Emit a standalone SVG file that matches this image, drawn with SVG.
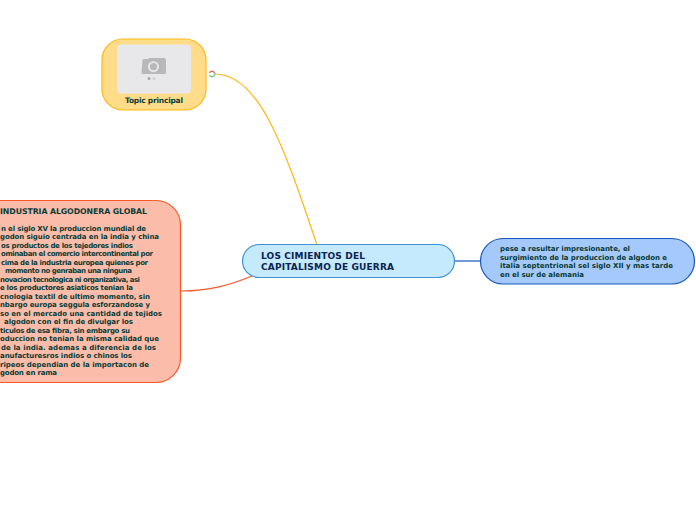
<svg xmlns="http://www.w3.org/2000/svg" width="696" height="520" viewBox="0 0 696 520">
<style>
text{font-family:"DejaVu Sans",Verdana,sans-serif;font-weight:700;fill:#0b3b35}
.s text{font-size:7px}
.h text{fill:#0b2350;font-size:9px}
.c{fill:none;stroke-width:1.2}
</style>
<rect width="696" height="520" fill="#fff"/>
<g id="connectors">
<path class="c" stroke="#fdb813" d="M215 74C260 74 285 150 317 245"/>
<path class="c" stroke="#f9582a" d="M181 291C210 291 230 285 252 276"/>
<path class="c" stroke="#1558c0" d="M455 261H481"/>
</g>
<g id="topic">
<rect x="102" y="39" width="104" height="71" rx="21" fill="#ffdc8a" stroke="#fdb813" stroke-width="1.200"/>
<rect x="117" y="44.500" width="74" height="49" rx="4" fill="#e8e8ea"/>
<path fill="#b8b8ba" d="M142.500 60.500a1.500 1.500 0 0 1 1.500-1.500h4l1-1h13a3 3 0 0 1 4 2v12.500a1.500 1.500 0 0 1-1.500 1.500h-21.500a1.500 1.500 0 0 1-1.500-1.500z"/>
<circle cx="153.500" cy="66.700" r="5.500" fill="#e8e8ea"/>
<circle cx="153.500" cy="66.700" r="3.600" fill="#b8b8ba"/>
<circle cx="149" cy="78.500" r="1.500" fill="#a8a8aa"/>
<circle cx="154" cy="78.500" r="1.500" fill="#d0d0d2"/>
<text x="125" y="102.700" font-size="7.500" textLength="58">Topic principal</text>
<circle cx="212" cy="74" r="2.800" fill="#fff"/>
<path d="M209.500 73a2.700 2.700 0 0 1 5 0" fill="none" stroke="#e2725b" stroke-width="1.400"/>
<path d="M209.500 75a2.700 2.700 0 0 0 5 0" fill="none" stroke="#7fc47f" stroke-width="1.400"/>
<path d="M214.800 73v2" fill="none" stroke="#6fa8dc" stroke-width="1.200"/>
</g>
<g id="industria">
<path d="M-10 200.500H156a24.500 24.500 0 0 1 24.500 24.500V358a24.500 24.500 0 0 1-24.500 24.500H-10z" fill="#fbbcaa" stroke="#f9582a" stroke-width="1.200"/>
<text x="0" y="213.500" font-size="7.800" textLength="147">INDUSTRIA ALGODONERA GLOBAL</text>
<g class="s">
<text x="1" y="230.700" textLength="145">n el siglo XV la produccion mundial de</text>
<text x="0" y="239.200" textLength="159">godon siguio centrada en la india y china</text>
<text x="1" y="247.700" textLength="132">os productos de los tejedores indios</text>
<text x="1" y="256.200" textLength="152">ominaban el comercio intercontinental por</text>
<text x="1" y="264.700" textLength="147">cima de la industria europea quienes por</text>
<text x="5" y="273.200" textLength="127">momento no genraban una ninguna</text>
<text x="0" y="281.700" textLength="140">novacion tecnologica ni organizativa, asi</text>
<text x="0" y="290.200" textLength="133">e los productores asiaticos tenian la</text>
<text x="0" y="298.700" textLength="150">cnologia textil de ultimo momento, sin</text>
<text x="0" y="307.200" textLength="150">nbargo europa seggula esforzandose y</text>
<text x="0" y="315.700" textLength="162">so en el mercado una cantidad de tejidos</text>
<text x="4" y="324.200" textLength="129">algodon con el fin de divulgar los</text>
<text x="0" y="332.700" textLength="130">ticulos de esa fibra, sin embargo su</text>
<text x="0" y="341.200" textLength="159">oduccion no tenian la misma calidad que</text>
<text x="1" y="349.700" textLength="155">de la india. ademas a diferencia de los</text>
<text x="0" y="358.200" textLength="132">anufacturesros indios o chinos los</text>
<text x="0" y="366.700" textLength="149">ripeos dependian de la importacon de</text>
<text x="0" y="375.200" textLength="57">godon en rama</text>
</g>
</g>
<g id="central">
<rect x="242.500" y="244.500" width="212" height="33" rx="16.500" fill="#c5e9fd" stroke="#3f8fd2" stroke-width="1.200"/>
<g class="h">
<text x="261" y="259" textLength="104">LOS CIMIENTOS DEL</text>
<text x="261" y="270" textLength="133">CAPITALISMO DE GUERRA</text>
</g>
</g>
<g id="pese">
<rect x="480.500" y="238.500" width="214" height="45.500" rx="22.700" fill="#a6c9fb" stroke="#1558c0" stroke-width="1.200"/>
<g class="s">
<text x="500" y="250.500" textLength="130">pese a resultar impresionante, el</text>
<text x="500" y="259.500" textLength="167">surgimiento de la produccion de algodon e</text>
<text x="500" y="268" textLength="173">italia septentrional sel siglo XII y mas tarde</text>
<text x="500" y="277" textLength="84">en el sur de alemania</text>
</g>
</g>
</svg>
